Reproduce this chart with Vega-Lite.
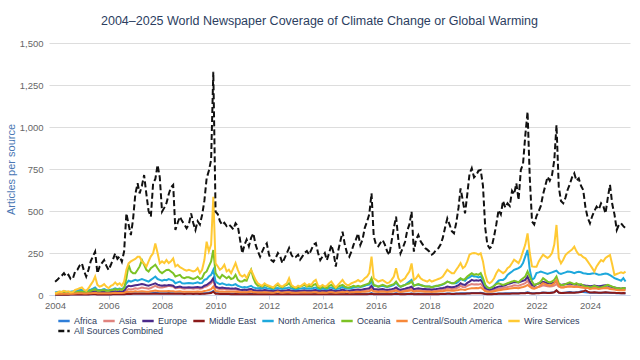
{
"$schema":"https://vega.github.io/schema/vega-lite/v6.json",
"width":581,"height":252,
"autosize":{"type":"none"},
"padding":{"left":49,"top":43,"right":10,"bottom":65},
"background":"white",
"title":{"text":"2004–2025 World Newspaper Coverage of Climate Change or Global Warming","font":"Liberation Sans","fontSize":12.5,"fontWeight":"normal","color":"#2C3E5F","anchor":"middle","offset":11,"dx":-20},
"data":{"values":[
{"d":"2004-01","t":79,"w":10,"o":5,"n":15,"e":8,"s":5,"c":6,"m":2,"a":3},
{"d":"2004-02","t":90,"w":15,"o":8,"n":18,"e":10,"s":6,"c":7,"m":2,"a":3},
{"d":"2004-03","t":105,"w":20,"o":10,"n":20,"e":12,"s":7,"c":8,"m":3,"a":4},
{"d":"2004-04","t":115,"w":18,"o":8,"n":18,"e":10,"s":6,"c":7,"m":2,"a":3},
{"d":"2004-05","t":130,"w":25,"o":12,"n":22,"e":12,"s":7,"c":8,"m":3,"a":4},
{"d":"2004-06","t":110,"w":20,"o":10,"n":20,"e":10,"s":6,"c":7,"m":2,"a":3},
{"d":"2004-07","t":120,"w":22,"o":8,"n":18,"e":10,"s":6,"c":7,"m":2,"a":3},
{"d":"2004-08","t":95,"w":15,"o":10,"n":20,"e":12,"s":7,"c":8,"m":3,"a":4},
{"d":"2004-09","t":99,"w":18,"o":12,"n":22,"e":12,"s":7,"c":8,"m":3,"a":4},
{"d":"2004-10","t":140,"w":30,"o":15,"n":25,"e":14,"s":8,"c":9,"m":3,"a":4},
{"d":"2004-11","t":150,"w":35,"o":18,"n":28,"e":15,"s":9,"c":10,"m":3,"a":5},
{"d":"2004-12","t":175,"w":40,"o":20,"n":30,"e":16,"s":10,"c":10,"m":3,"a":5},
{"d":"2005-01","t":188,"w":45,"o":20,"n":30,"e":16,"s":10,"c":10,"m":3,"a":5},
{"d":"2005-02","t":140,"w":30,"o":18,"n":25,"e":14,"s":9,"c":9,"m":3,"a":4},
{"d":"2005-03","t":110,"w":25,"o":15,"n":22,"e":12,"s":8,"c":9,"m":3,"a":4},
{"d":"2005-04","t":150,"w":40,"o":20,"n":28,"e":15,"s":10,"c":10,"m":3,"a":5},
{"d":"2005-05","t":200,"w":60,"o":25,"n":32,"e":18,"s":11,"c":11,"m":4,"a":5},
{"d":"2005-06","t":230,"w":80,"o":30,"n":38,"e":20,"s":12,"c":12,"m":4,"a":6},
{"d":"2005-07","t":258,"w":110,"o":35,"n":45,"e":22,"s":14,"c":13,"m":4,"a":6},
{"d":"2005-08","t":129,"w":60,"o":25,"n":30,"e":16,"s":10,"c":10,"m":3,"a":5},
{"d":"2005-09","t":170,"w":50,"o":25,"n":30,"e":16,"s":10,"c":10,"m":3,"a":5},
{"d":"2005-10","t":190,"w":55,"o":28,"n":32,"e":18,"s":11,"c":11,"m":3,"a":5},
{"d":"2005-11","t":208,"w":65,"o":30,"n":35,"e":18,"s":12,"c":11,"m":4,"a":6},
{"d":"2005-12","t":175,"w":50,"o":25,"n":30,"e":16,"s":10,"c":10,"m":3,"a":5},
{"d":"2006-01","t":149,"w":40,"o":25,"n":28,"e":15,"s":10,"c":10,"m":3,"a":5},
{"d":"2006-02","t":180,"w":55,"o":28,"n":32,"e":18,"s":11,"c":11,"m":3,"a":5},
{"d":"2006-03","t":210,"w":60,"o":30,"n":35,"e":20,"s":12,"c":12,"m":4,"a":6},
{"d":"2006-04","t":248,"w":75,"o":35,"n":40,"e":22,"s":14,"c":13,"m":4,"a":6},
{"d":"2006-05","t":215,"w":60,"o":30,"n":35,"e":20,"s":12,"c":12,"m":4,"a":6},
{"d":"2006-06","t":230,"w":70,"o":35,"n":38,"e":22,"s":13,"c":12,"m":4,"a":6},
{"d":"2006-07","t":198,"w":55,"o":30,"n":35,"e":20,"s":12,"c":12,"m":4,"a":6},
{"d":"2006-08","t":260,"w":80,"o":40,"n":45,"e":25,"s":15,"c":14,"m":4,"a":7},
{"d":"2006-09","t":486,"w":150,"o":100,"n":70,"e":45,"s":28,"c":18,"m":6,"a":9},
{"d":"2006-10","t":420,"w":188,"o":179,"n":85,"e":55,"s":35,"c":20,"m":7,"a":10},
{"d":"2006-11","t":357,"w":200,"o":140,"n":80,"e":52,"s":33,"c":19,"m":6,"a":9},
{"d":"2006-12","t":450,"w":208,"o":130,"n":85,"e":55,"s":36,"c":20,"m":7,"a":10},
{"d":"2007-01","t":600,"w":215,"o":129,"n":90,"e":58,"s":40,"c":22,"m":8,"a":11},
{"d":"2007-02","t":665,"w":228,"o":150,"n":85,"e":60,"s":38,"c":20,"m":7,"a":10},
{"d":"2007-03","t":605,"w":228,"o":170,"n":90,"e":62,"s":40,"c":21,"m":7,"a":10},
{"d":"2007-04","t":650,"w":200,"o":208,"n":95,"e":65,"s":45,"c":22,"m":8,"a":11},
{"d":"2007-05","t":714,"w":188,"o":180,"n":90,"e":62,"s":42,"c":21,"m":8,"a":11},
{"d":"2007-06","t":600,"w":169,"o":150,"n":85,"e":58,"s":40,"c":20,"m":7,"a":10},
{"d":"2007-07","t":500,"w":200,"o":140,"n":80,"e":55,"s":38,"c":20,"m":7,"a":10},
{"d":"2007-08","t":466,"w":230,"o":160,"n":90,"e":60,"s":42,"c":22,"m":8,"a":11},
{"d":"2007-09","t":665,"w":248,"o":170,"n":100,"e":65,"s":48,"c":24,"m":8,"a":12},
{"d":"2007-10","t":690,"w":307,"o":180,"n":110,"e":70,"s":55,"c":26,"m":9,"a":13},
{"d":"2007-11","t":774,"w":250,"o":159,"n":95,"e":62,"s":48,"c":24,"m":8,"a":12},
{"d":"2007-12","t":700,"w":188,"o":140,"n":90,"e":58,"s":45,"c":22,"m":8,"a":11},
{"d":"2008-01","t":496,"w":200,"o":130,"n":85,"e":55,"s":45,"c":22,"m":8,"a":11},
{"d":"2008-02","t":520,"w":190,"o":140,"n":90,"e":58,"s":48,"c":23,"m":8,"a":11},
{"d":"2008-03","t":546,"w":208,"o":149,"n":88,"e":56,"s":50,"c":22,"m":8,"a":11},
{"d":"2008-04","t":600,"w":190,"o":150,"n":95,"e":60,"s":55,"c":24,"m":9,"a":12},
{"d":"2008-05","t":640,"w":200,"o":140,"n":90,"e":58,"s":52,"c":23,"m":8,"a":11},
{"d":"2008-06","t":655,"w":218,"o":130,"n":85,"e":55,"s":50,"c":22,"m":8,"a":11},
{"d":"2008-07","t":387,"w":170,"o":110,"n":70,"e":45,"s":40,"c":20,"m":7,"a":10},
{"d":"2008-08","t":430,"w":180,"o":115,"n":75,"e":48,"s":42,"c":21,"m":7,"a":10},
{"d":"2008-09","t":466,"w":165,"o":120,"n":80,"e":50,"s":44,"c":22,"m":7,"a":10},
{"d":"2008-10","t":440,"w":159,"o":105,"n":70,"e":46,"s":40,"c":20,"m":7,"a":10},
{"d":"2008-11","t":420,"w":150,"o":100,"n":68,"e":44,"s":38,"c":19,"m":6,"a":9},
{"d":"2008-12","t":397,"w":145,"o":105,"n":70,"e":45,"s":40,"c":20,"m":7,"a":10},
{"d":"2009-01","t":420,"w":150,"o":105,"n":72,"e":46,"s":42,"c":20,"m":7,"a":10},
{"d":"2009-02","t":486,"w":145,"o":100,"n":70,"e":45,"s":40,"c":20,"m":7,"a":10},
{"d":"2009-03","t":430,"w":140,"o":95,"n":68,"e":44,"s":38,"c":19,"m":6,"a":9},
{"d":"2009-04","t":387,"w":145,"o":100,"n":72,"e":46,"s":40,"c":20,"m":7,"a":10},
{"d":"2009-05","t":440,"w":160,"o":110,"n":75,"e":48,"s":42,"c":21,"m":7,"a":10},
{"d":"2009-06","t":420,"w":130,"o":95,"n":70,"e":45,"s":38,"c":19,"m":6,"a":9},
{"d":"2009-07","t":476,"w":150,"o":100,"n":72,"e":46,"s":40,"c":20,"m":7,"a":10},
{"d":"2009-08","t":560,"w":208,"o":130,"n":90,"e":55,"s":48,"c":24,"m":8,"a":11},
{"d":"2009-09","t":694,"w":317,"o":140,"n":95,"e":60,"s":52,"c":26,"m":9,"a":12},
{"d":"2009-10","t":740,"w":260,"o":170,"n":110,"e":70,"s":60,"c":30,"m":10,"a":14},
{"d":"2009-11","t":803,"w":300,"o":200,"n":120,"e":80,"s":70,"c":35,"m":12,"a":16},
{"d":"2009-12","t":1329,"w":585,"o":268,"n":150,"e":100,"s":90,"c":50,"m":20,"a":24},
{"d":"2010-01","t":496,"w":188,"o":130,"n":80,"e":50,"s":42,"c":24,"m":8,"a":11},
{"d":"2010-02","t":480,"w":170,"o":110,"n":70,"e":45,"s":38,"c":22,"m":7,"a":10},
{"d":"2010-03","t":440,"w":150,"o":100,"n":65,"e":42,"s":35,"c":20,"m":6,"a":9},
{"d":"2010-04","t":417,"w":160,"o":120,"n":70,"e":44,"s":36,"c":21,"m":6,"a":9},
{"d":"2010-05","t":430,"w":180,"o":110,"n":65,"e":42,"s":35,"c":20,"m":6,"a":9},
{"d":"2010-06","t":410,"w":140,"o":100,"n":60,"e":40,"s":33,"c":19,"m":6,"a":9},
{"d":"2010-07","t":420,"w":150,"o":110,"n":62,"e":40,"s":34,"c":20,"m":6,"a":9},
{"d":"2010-08","t":407,"w":130,"o":95,"n":58,"e":38,"s":32,"c":19,"m":5,"a":8},
{"d":"2010-09","t":390,"w":160,"o":100,"n":60,"e":38,"s":32,"c":19,"m":5,"a":8},
{"d":"2010-10","t":427,"w":190,"o":120,"n":65,"e":40,"s":33,"c":20,"m":6,"a":9},
{"d":"2010-11","t":410,"w":150,"o":90,"n":55,"e":36,"s":30,"c":18,"m":5,"a":8},
{"d":"2010-12","t":330,"w":120,"o":80,"n":50,"e":32,"s":27,"c":16,"m":5,"a":7},
{"d":"2011-01","t":248,"w":110,"o":80,"n":45,"e":30,"s":25,"c":16,"m":5,"a":7},
{"d":"2011-02","t":300,"w":120,"o":90,"n":48,"e":32,"s":26,"c":17,"m":5,"a":7},
{"d":"2011-03","t":330,"w":100,"o":85,"n":45,"e":30,"s":25,"c":16,"m":5,"a":7},
{"d":"2011-04","t":290,"w":130,"o":120,"n":50,"e":34,"s":28,"c":18,"m":5,"a":7},
{"d":"2011-05","t":340,"w":150,"o":150,"n":55,"e":36,"s":30,"c":20,"m":5,"a":8},
{"d":"2011-06","t":367,"w":120,"o":100,"n":45,"e":30,"s":26,"c":17,"m":5,"a":7},
{"d":"2011-07","t":300,"w":90,"o":70,"n":42,"e":28,"s":24,"c":16,"m":4,"a":6},
{"d":"2011-08","t":260,"w":70,"o":55,"n":40,"e":27,"s":22,"c":15,"m":4,"a":6},
{"d":"2011-09","t":228,"w":60,"o":55,"n":42,"e":28,"s":23,"c":15,"m":4,"a":6},
{"d":"2011-10","t":260,"w":55,"o":50,"n":40,"e":27,"s":22,"c":15,"m":4,"a":6},
{"d":"2011-11","t":290,"w":70,"o":60,"n":45,"e":30,"s":24,"c":16,"m":5,"a":12},
{"d":"2011-12","t":307,"w":60,"o":55,"n":40,"e":28,"s":22,"c":15,"m":4,"a":6},
{"d":"2012-01","t":240,"w":55,"o":50,"n":38,"e":26,"s":21,"c":15,"m":4,"a":6},
{"d":"2012-02","t":208,"w":50,"o":45,"n":36,"e":25,"s":20,"c":14,"m":4,"a":6},
{"d":"2012-03","t":198,"w":45,"o":40,"n":35,"e":24,"s":20,"c":14,"m":4,"a":6},
{"d":"2012-04","t":220,"w":60,"o":55,"n":40,"e":27,"s":22,"c":16,"m":4,"a":6},
{"d":"2012-05","t":250,"w":70,"o":60,"n":42,"e":28,"s":23,"c":20,"m":5,"a":7},
{"d":"2012-06","t":230,"w":55,"o":50,"n":38,"e":26,"s":21,"c":15,"m":4,"a":6},
{"d":"2012-07","t":190,"w":50,"o":45,"n":36,"e":25,"s":20,"c":14,"m":4,"a":6},
{"d":"2012-08","t":220,"w":60,"o":55,"n":40,"e":27,"s":22,"c":15,"m":4,"a":6},
{"d":"2012-09","t":250,"w":70,"o":60,"n":42,"e":28,"s":23,"c":16,"m":5,"a":7},
{"d":"2012-10","t":280,"w":100,"o":70,"n":45,"e":30,"s":25,"c":16,"m":5,"a":7},
{"d":"2012-11","t":240,"w":60,"o":50,"n":38,"e":26,"s":21,"c":14,"m":4,"a":6},
{"d":"2012-12","t":220,"w":50,"o":45,"n":36,"e":25,"s":20,"c":14,"m":5,"a":6},
{"d":"2013-01","t":226,"w":45,"o":40,"n":34,"e":24,"s":19,"c":14,"m":4,"a":6},
{"d":"2013-02","t":240,"w":55,"o":45,"n":36,"e":25,"s":20,"c":14,"m":4,"a":6},
{"d":"2013-03","t":210,"w":50,"o":50,"n":38,"e":26,"s":21,"c":15,"m":4,"a":6},
{"d":"2013-04","t":230,"w":60,"o":55,"n":40,"e":27,"s":22,"c":15,"m":4,"a":6},
{"d":"2013-05","t":250,"w":70,"o":60,"n":42,"e":28,"s":23,"c":16,"m":5,"a":7},
{"d":"2013-06","t":262,"w":55,"o":50,"n":38,"e":26,"s":21,"c":15,"m":4,"a":6},
{"d":"2013-07","t":240,"w":65,"o":55,"n":40,"e":27,"s":22,"c":15,"m":4,"a":6},
{"d":"2013-08","t":270,"w":60,"o":50,"n":38,"e":26,"s":21,"c":15,"m":4,"a":6},
{"d":"2013-09","t":300,"w":80,"o":60,"n":42,"e":28,"s":23,"c":16,"m":5,"a":7},
{"d":"2013-10","t":309,"w":90,"o":65,"n":44,"e":29,"s":24,"c":16,"m":5,"a":7},
{"d":"2013-11","t":250,"w":55,"o":45,"n":36,"e":25,"s":20,"c":14,"m":4,"a":6},
{"d":"2013-12","t":208,"w":50,"o":40,"n":34,"e":24,"s":19,"c":14,"m":4,"a":6},
{"d":"2014-01","t":230,"w":60,"o":50,"n":38,"e":26,"s":21,"c":15,"m":4,"a":6},
{"d":"2014-02","t":250,"w":50,"o":45,"n":36,"e":25,"s":20,"c":14,"m":4,"a":6},
{"d":"2014-03","t":208,"w":55,"o":40,"n":35,"e":24,"s":19,"c":14,"m":4,"a":6},
{"d":"2014-04","t":250,"w":70,"o":55,"n":42,"e":28,"s":23,"c":16,"m":5,"a":7},
{"d":"2014-05","t":298,"w":80,"o":60,"n":44,"e":29,"s":24,"c":17,"m":5,"a":7},
{"d":"2014-06","t":250,"w":60,"o":50,"n":38,"e":26,"s":21,"c":15,"m":4,"a":6},
{"d":"2014-07","t":169,"w":45,"o":40,"n":34,"e":24,"s":19,"c":14,"m":4,"a":6},
{"d":"2014-08","t":260,"w":60,"o":50,"n":38,"e":26,"s":21,"c":15,"m":4,"a":6},
{"d":"2014-09","t":320,"w":75,"o":55,"n":42,"e":28,"s":23,"c":16,"m":5,"a":7},
{"d":"2014-10","t":377,"w":90,"o":60,"n":48,"e":32,"s":27,"c":18,"m":5,"a":7},
{"d":"2014-11","t":300,"w":70,"o":50,"n":40,"e":28,"s":23,"c":16,"m":4,"a":6},
{"d":"2014-12","t":250,"w":60,"o":45,"n":38,"e":26,"s":21,"c":20,"m":4,"a":6},
{"d":"2015-01","t":228,"w":60,"o":45,"n":38,"e":26,"s":21,"c":15,"m":4,"a":6},
{"d":"2015-02","t":260,"w":70,"o":50,"n":42,"e":28,"s":23,"c":16,"m":4,"a":6},
{"d":"2015-03","t":300,"w":75,"o":55,"n":45,"e":30,"s":25,"c":17,"m":5,"a":7},
{"d":"2015-04","t":330,"w":80,"o":50,"n":48,"e":32,"s":26,"c":18,"m":5,"a":7},
{"d":"2015-05","t":367,"w":89,"o":55,"n":50,"e":33,"s":27,"c":18,"m":5,"a":7},
{"d":"2015-06","t":298,"w":80,"o":50,"n":48,"e":32,"s":26,"c":18,"m":5,"a":7},
{"d":"2015-07","t":330,"w":85,"o":55,"n":50,"e":33,"s":27,"c":19,"m":5,"a":7},
{"d":"2015-08","t":400,"w":100,"o":60,"n":55,"e":36,"s":29,"c":20,"m":5,"a":7},
{"d":"2015-09","t":437,"w":110,"o":65,"n":60,"e":38,"s":31,"c":21,"m":5,"a":8},
{"d":"2015-10","t":480,"w":130,"o":70,"n":62,"e":40,"s":33,"c":22,"m":6,"a":8},
{"d":"2015-11","t":605,"w":228,"o":100,"n":80,"e":55,"s":45,"c":30,"m":8,"a":12},
{"d":"2015-12","t":350,"w":100,"o":60,"n":55,"e":36,"s":30,"c":20,"m":5,"a":7},
{"d":"2016-01","t":300,"w":90,"o":55,"n":55,"e":35,"s":28,"c":19,"m":5,"a":7},
{"d":"2016-02","t":290,"w":80,"o":50,"n":50,"e":33,"s":26,"c":18,"m":5,"a":7},
{"d":"2016-03","t":310,"w":85,"o":55,"n":52,"e":34,"s":27,"c":19,"m":5,"a":7},
{"d":"2016-04","t":327,"w":89,"o":60,"n":55,"e":35,"s":28,"c":20,"m":5,"a":7},
{"d":"2016-05","t":300,"w":80,"o":55,"n":50,"e":33,"s":26,"c":19,"m":5,"a":7},
{"d":"2016-06","t":260,"w":70,"o":50,"n":48,"e":32,"s":25,"c":18,"m":5,"a":7},
{"d":"2016-07","t":238,"w":75,"o":55,"n":50,"e":33,"s":26,"c":19,"m":5,"a":7},
{"d":"2016-08","t":320,"w":90,"o":60,"n":55,"e":35,"s":28,"c":20,"m":5,"a":8},
{"d":"2016-09","t":400,"w":110,"o":65,"n":60,"e":38,"s":30,"c":22,"m":6,"a":8},
{"d":"2016-10","t":466,"w":159,"o":80,"n":75,"e":45,"s":36,"c":26,"m":8,"a":11},
{"d":"2016-11","t":330,"w":100,"o":60,"n":55,"e":35,"s":28,"c":20,"m":6,"a":8},
{"d":"2016-12","t":248,"w":80,"o":50,"n":48,"e":32,"s":25,"c":18,"m":5,"a":7},
{"d":"2017-01","t":280,"w":90,"o":55,"n":55,"e":35,"s":27,"c":20,"m":5,"a":7},
{"d":"2017-02","t":317,"w":100,"o":60,"n":60,"e":38,"s":30,"c":22,"m":5,"a":8},
{"d":"2017-03","t":380,"w":120,"o":65,"n":70,"e":42,"s":33,"c":24,"m":6,"a":8},
{"d":"2017-04","t":420,"w":140,"o":70,"n":80,"e":45,"s":35,"c":25,"m":6,"a":8},
{"d":"2017-05","t":496,"w":188,"o":80,"n":90,"e":50,"s":40,"c":28,"m":7,"a":9},
{"d":"2017-06","t":258,"w":90,"o":55,"n":55,"e":35,"s":28,"c":20,"m":5,"a":7},
{"d":"2017-07","t":330,"w":100,"o":60,"n":60,"e":38,"s":30,"c":22,"m":5,"a":7},
{"d":"2017-08","t":357,"w":120,"o":65,"n":62,"e":40,"s":32,"c":23,"m":6,"a":8},
{"d":"2017-09","t":320,"w":100,"o":60,"n":58,"e":38,"s":30,"c":22,"m":5,"a":7},
{"d":"2017-10","t":300,"w":90,"o":55,"n":55,"e":36,"s":28,"c":21,"m":5,"a":7},
{"d":"2017-11","t":280,"w":85,"o":50,"n":52,"e":35,"s":27,"c":20,"m":5,"a":7},
{"d":"2017-12","t":270,"w":80,"o":50,"n":50,"e":34,"s":26,"c":19,"m":5,"a":7},
{"d":"2018-01","t":258,"w":90,"o":50,"n":50,"e":34,"s":26,"c":19,"m":5,"a":7},
{"d":"2018-02","t":240,"w":80,"o":45,"n":48,"e":33,"s":25,"c":18,"m":5,"a":7},
{"d":"2018-03","t":250,"w":85,"o":50,"n":50,"e":35,"s":27,"c":19,"m":5,"a":7},
{"d":"2018-04","t":270,"w":90,"o":55,"n":52,"e":36,"s":28,"c":20,"m":5,"a":7},
{"d":"2018-05","t":278,"w":95,"o":55,"n":55,"e":38,"s":29,"c":21,"m":5,"a":7},
{"d":"2018-06","t":300,"w":100,"o":60,"n":58,"e":40,"s":30,"c":22,"m":6,"a":8},
{"d":"2018-07","t":340,"w":110,"o":65,"n":62,"e":42,"s":32,"c":23,"m":6,"a":8},
{"d":"2018-08","t":400,"w":130,"o":70,"n":70,"e":45,"s":35,"c":25,"m":6,"a":8},
{"d":"2018-09","t":456,"w":150,"o":80,"n":80,"e":50,"s":40,"c":28,"m":7,"a":9},
{"d":"2018-10","t":420,"w":140,"o":75,"n":75,"e":48,"s":38,"c":27,"m":7,"a":9},
{"d":"2018-11","t":380,"w":130,"o":70,"n":70,"e":46,"s":36,"c":26,"m":6,"a":8},
{"d":"2018-12","t":367,"w":129,"o":70,"n":72,"e":47,"s":37,"c":26,"m":6,"a":8},
{"d":"2019-01","t":430,"w":150,"o":80,"n":70,"e":52,"s":40,"c":28,"m":7,"a":9},
{"d":"2019-02","t":520,"w":170,"o":90,"n":80,"e":58,"s":45,"c":30,"m":7,"a":9},
{"d":"2019-03","t":635,"w":190,"o":100,"n":95,"e":70,"s":55,"c":34,"m":8,"a":10},
{"d":"2019-04","t":560,"w":160,"o":90,"n":90,"e":62,"s":48,"c":32,"m":8,"a":10},
{"d":"2019-05","t":486,"w":170,"o":95,"n":85,"e":60,"s":46,"c":30,"m":8,"a":10},
{"d":"2019-06","t":600,"w":200,"o":110,"n":100,"e":72,"s":55,"c":35,"m":9,"a":11},
{"d":"2019-07","t":720,"w":240,"o":120,"n":105,"e":80,"s":60,"c":38,"m":9,"a":11},
{"d":"2019-08","t":754,"w":248,"o":130,"n":115,"e":90,"s":65,"c":40,"m":10,"a":12},
{"d":"2019-09","t":700,"w":250,"o":120,"n":110,"e":85,"s":62,"c":40,"m":10,"a":12},
{"d":"2019-10","t":714,"w":248,"o":125,"n":110,"e":88,"s":64,"c":42,"m":10,"a":12},
{"d":"2019-11","t":740,"w":240,"o":120,"n":105,"e":85,"s":62,"c":40,"m":10,"a":12},
{"d":"2019-12","t":744,"w":248,"o":130,"n":110,"e":90,"s":66,"c":45,"m":11,"a":13},
{"d":"2020-01","t":650,"w":200,"o":100,"n":90,"e":70,"s":52,"c":35,"m":9,"a":11},
{"d":"2020-02","t":400,"w":120,"o":60,"n":55,"e":40,"s":30,"c":22,"m":6,"a":8},
{"d":"2020-03","t":300,"w":80,"o":45,"n":45,"e":35,"s":26,"c":20,"m":5,"a":7},
{"d":"2020-04","t":278,"w":70,"o":40,"n":40,"e":32,"s":24,"c":19,"m":5,"a":7},
{"d":"2020-05","t":290,"w":80,"o":45,"n":45,"e":35,"s":26,"c":20,"m":5,"a":7},
{"d":"2020-06","t":350,"w":100,"o":55,"n":55,"e":40,"s":30,"c":22,"m":6,"a":8},
{"d":"2020-07","t":420,"w":129,"o":65,"n":70,"e":45,"s":34,"c":25,"m":6,"a":8},
{"d":"2020-08","t":506,"w":150,"o":70,"n":85,"e":50,"s":38,"c":28,"m":7,"a":9},
{"d":"2020-09","t":480,"w":140,"o":65,"n":90,"e":52,"s":40,"c":30,"m":7,"a":9},
{"d":"2020-10","t":560,"w":130,"o":60,"n":90,"e":55,"s":42,"c":32,"m":7,"a":9},
{"d":"2020-11","t":520,"w":140,"o":65,"n":100,"e":58,"s":44,"c":34,"m":8,"a":10},
{"d":"2020-12","t":546,"w":160,"o":70,"n":120,"e":65,"s":48,"c":36,"m":8,"a":10},
{"d":"2021-01","t":530,"w":170,"o":75,"n":130,"e":68,"s":50,"c":38,"m":8,"a":10},
{"d":"2021-02","t":620,"w":190,"o":80,"n":140,"e":72,"s":54,"c":40,"m":9,"a":11},
{"d":"2021-03","t":600,"w":210,"o":85,"n":150,"e":78,"s":58,"c":42,"m":9,"a":11},
{"d":"2021-04","t":665,"w":200,"o":80,"n":155,"e":76,"s":56,"c":42,"m":9,"a":11},
{"d":"2021-05","t":565,"w":190,"o":75,"n":160,"e":74,"s":55,"c":40,"m":9,"a":11},
{"d":"2021-06","t":744,"w":220,"o":90,"n":170,"e":80,"s":60,"c":45,"m":10,"a":12},
{"d":"2021-07","t":780,"w":260,"o":100,"n":190,"e":85,"s":65,"c":48,"m":10,"a":12},
{"d":"2021-08","t":950,"w":300,"o":110,"n":230,"e":90,"s":70,"c":52,"m":11,"a":13},
{"d":"2021-09","t":1091,"w":367,"o":140,"n":268,"e":110,"s":85,"c":60,"m":13,"a":16},
{"d":"2021-10","t":700,"w":250,"o":110,"n":150,"e":80,"s":62,"c":50,"m":11,"a":13},
{"d":"2021-11","t":437,"w":170,"o":80,"n":90,"e":60,"s":48,"c":40,"m":9,"a":11},
{"d":"2021-12","t":420,"w":168,"o":60,"n":100,"e":55,"s":44,"c":38,"m":9,"a":11},
{"d":"2022-01","t":470,"w":168,"o":65,"n":130,"e":65,"s":46,"c":42,"m":10,"a":12},
{"d":"2022-02","t":500,"w":200,"o":70,"n":135,"e":68,"s":48,"c":50,"m":11,"a":12},
{"d":"2022-03","t":530,"w":220,"o":80,"n":140,"e":72,"s":52,"c":60,"m":12,"a":13},
{"d":"2022-04","t":600,"w":240,"o":100,"n":135,"e":78,"s":58,"c":70,"m":14,"a":15},
{"d":"2022-05","t":650,"w":230,"o":90,"n":130,"e":74,"s":55,"c":65,"m":13,"a":14},
{"d":"2022-06","t":704,"w":220,"o":80,"n":125,"e":70,"s":52,"c":60,"m":12,"a":13},
{"d":"2022-07","t":680,"w":230,"o":75,"n":130,"e":68,"s":50,"c":55,"m":12,"a":13},
{"d":"2022-08","t":714,"w":250,"o":80,"n":135,"e":70,"s":52,"c":60,"m":14,"a":15},
{"d":"2022-09","t":803,"w":300,"o":90,"n":140,"e":74,"s":56,"c":70,"m":16,"a":17},
{"d":"2022-10","t":1012,"w":417,"o":110,"n":145,"e":85,"s":65,"c":90,"m":28,"a":26},
{"d":"2022-11","t":645,"w":220,"o":70,"n":130,"e":65,"s":50,"c":55,"m":15,"a":14},
{"d":"2022-12","t":560,"w":188,"o":60,"n":125,"e":60,"s":46,"c":45,"m":12,"a":12},
{"d":"2023-01","t":546,"w":210,"o":60,"n":130,"e":62,"s":46,"c":45,"m":12,"a":13},
{"d":"2023-02","t":580,"w":238,"o":65,"n":135,"e":64,"s":48,"c":48,"m":13,"a":14},
{"d":"2023-03","t":625,"w":250,"o":70,"n":140,"e":66,"s":50,"c":50,"m":14,"a":16},
{"d":"2023-04","t":660,"w":260,"o":75,"n":138,"e":68,"s":52,"c":52,"m":15,"a":18},
{"d":"2023-05","t":700,"w":270,"o":70,"n":135,"e":65,"s":50,"c":50,"m":14,"a":16},
{"d":"2023-06","t":724,"w":288,"o":65,"n":130,"e":62,"s":48,"c":48,"m":14,"a":15},
{"d":"2023-07","t":680,"w":260,"o":70,"n":135,"e":64,"s":50,"c":50,"m":15,"a":16},
{"d":"2023-08","t":694,"w":240,"o":60,"n":138,"e":62,"s":48,"c":48,"m":16,"a":17},
{"d":"2023-09","t":650,"w":238,"o":65,"n":135,"e":60,"s":46,"c":46,"m":18,"a":22},
{"d":"2023-10","t":625,"w":225,"o":55,"n":130,"e":58,"s":44,"c":44,"m":22,"a":18},
{"d":"2023-11","t":520,"w":218,"o":50,"n":128,"e":56,"s":42,"c":42,"m":28,"a":16},
{"d":"2023-12","t":460,"w":200,"o":50,"n":125,"e":55,"s":42,"c":42,"m":20,"a":15},
{"d":"2024-01","t":427,"w":180,"o":45,"n":125,"e":52,"s":40,"c":36,"m":15,"a":14},
{"d":"2024-02","t":470,"w":160,"o":50,"n":128,"e":54,"s":42,"c":38,"m":15,"a":14},
{"d":"2024-03","t":500,"w":139,"o":55,"n":130,"e":56,"s":44,"c":40,"m":16,"a":15},
{"d":"2024-04","t":526,"w":170,"o":50,"n":125,"e":54,"s":42,"c":38,"m":15,"a":14},
{"d":"2024-05","t":510,"w":190,"o":45,"n":120,"e":52,"s":40,"c":36,"m":14,"a":13},
{"d":"2024-06","t":546,"w":208,"o":45,"n":122,"e":54,"s":42,"c":38,"m":14,"a":13},
{"d":"2024-07","t":530,"w":200,"o":50,"n":125,"e":56,"s":44,"c":40,"m":15,"a":14},
{"d":"2024-08","t":486,"w":220,"o":55,"n":128,"e":58,"s":46,"c":42,"m":16,"a":15},
{"d":"2024-09","t":580,"w":230,"o":60,"n":125,"e":56,"s":44,"c":40,"m":15,"a":14},
{"d":"2024-10","t":655,"w":238,"o":55,"n":118,"e":52,"s":40,"c":36,"m":14,"a":13},
{"d":"2024-11","t":540,"w":180,"o":50,"n":110,"e":48,"s":38,"c":34,"m":14,"a":12},
{"d":"2024-12","t":480,"w":119,"o":45,"n":100,"e":45,"s":36,"c":32,"m":13,"a":12},
{"d":"2025-01","t":387,"w":125,"o":40,"n":95,"e":42,"s":34,"c":30,"m":12,"a":11},
{"d":"2025-02","t":420,"w":130,"o":40,"n":90,"e":40,"s":32,"c":28,"m":12,"a":11},
{"d":"2025-03","t":427,"w":135,"o":38,"n":85,"e":38,"s":30,"c":28,"m":11,"a":10},
{"d":"2025-04","t":410,"w":130,"o":42,"n":100,"e":42,"s":34,"c":30,"m":12,"a":11},
{"d":"2025-05","t":397,"w":139,"o":40,"n":80,"e":40,"s":32,"c":28,"m":11,"a":10}
]},
"transform":[{"fold":["a","s","e","m","n","o","c","w","t"],"as":["k","v"]}],
"encoding":{
"x":{"field":"d","type":"temporal","scale":{"domain":[{"year":2003,"month":10,"date":10},{"year":2025,"month":7,"date":1}]},
"axis":{"title":null,"format":"%Y","tickCount":{"interval":"year","step":2},"grid":false,"domainColor":"#ccd6eb","tickColor":"#ccd6eb","tickSize":4,"labelPadding":1,"labelFlush":false,"labelFontSize":9.5,"labelColor":"#666666","labelFont":"Liberation Sans"}},
"y":{"field":"v","type":"quantitative","scale":{"domain":[0,1500]},
"axis":{"title":"Articles per source","titleColor":"#4A77B4","titleFontSize":11,"titleFontWeight":"normal","titleFont":"Liberation Sans","titlePadding":3,"format":",d","values":[0,250,500,750,1000,1250,1500],"grid":true,"gridColor":"#dddddd","domain":false,"ticks":false,"labelPadding":6,"labelFontSize":9.5,"labelColor":"#666666","labelFont":"Liberation Sans"}}
},
"layer":[
{"transform":[{"filter":"datum.k !== 't'"}],
"mark":{"type":"line","strokeWidth":2},
"encoding":{
"color":{"field":"k","type":"nominal","scale":{"domain":["a","s","e","m","n","o","c","w"],"range":["#2F7ED8","#E0837E","#4B2A8A","#8B1A1A","#1EA8DC","#7CC225","#F7883A","#FFC933"]},
"legend":{"title":null,"orient":"none","legendX":8,"legendY":271,"direction":"horizontal","labelExpr":"{'a':'Africa','s':'Asia','e':'Europe','m':'Middle East','n':'North America','o':'Oceania','c':'Central/South America','w':'Wire Services'}[datum.label]"}}}},
{"transform":[{"filter":"datum.k === 't'"}],
"mark":{"type":"line","strokeWidth":2,"color":"#111111"},
"encoding":{
"strokeDash":{"datum":"All Sources Combined","type":"nominal","scale":{"range":[[6,3]]},
"legend":{"title":null,"orient":"none","legendX":8,"legendY":281,"direction":"horizontal"}}}}
],
"config":{"view":{"stroke":null},
"legend":{"symbolType":"stroke","symbolStrokeWidth":2.5,"symbolSize":130,"symbolStrokeColor":"#111111","labelFontSize":9,"labelFont":"Liberation Sans","labelColor":"#2E3B5B","columnPadding":0,"rowPadding":1,"labelOffset":3,"padding":0}}
}
